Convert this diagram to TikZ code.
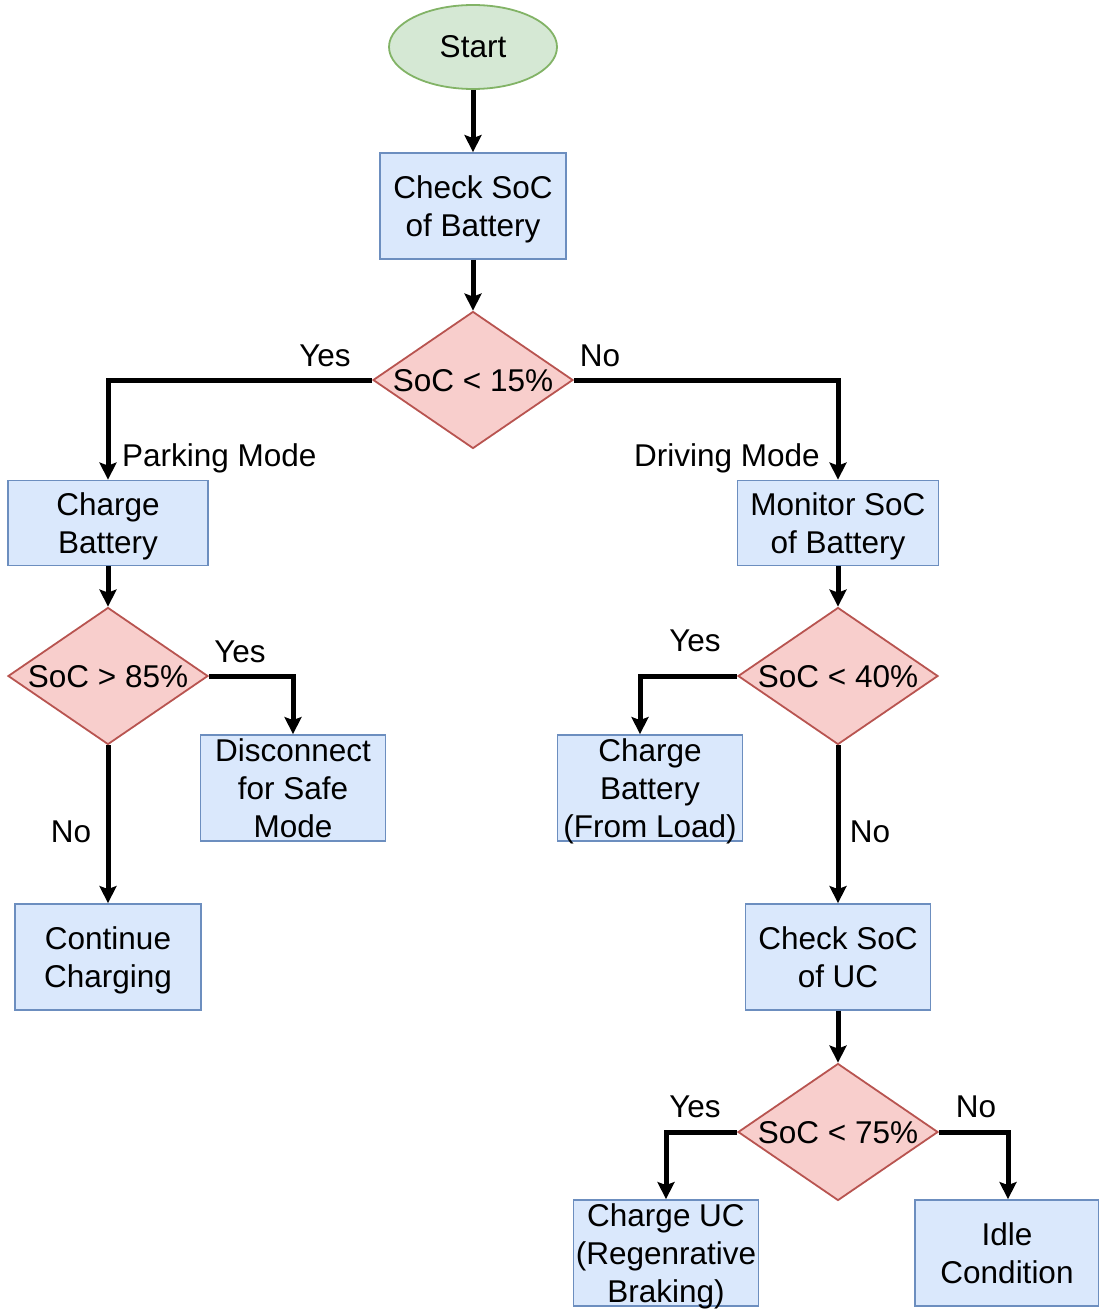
\documentclass[tikz,border=0pt]{standalone}
\usepackage{fontspec}
\setmainfont{Liberation Sans}
\usetikzlibrary{shapes.geometric,arrows.meta}
\definecolor{gfill}{HTML}{D5E8D4}\definecolor{gline}{HTML}{82B366}
\definecolor{bfill}{HTML}{DAE8FC}\definecolor{bline}{HTML}{6C8EBF}
\definecolor{rfill}{HTML}{F8CECC}\definecolor{rline}{HTML}{B85450}
\tikzset{
  txt/.style={font=\fontsize{31.5}{37.8}\selectfont, align=center, inner sep=0pt},
  % centre the text on its cap lines, ignoring descenders of the last line
  boxtxt/.style={txt, text depth=0pt},
  startbox/.style={ellipse, draw=gline, fill=gfill, line width=1.8pt, minimum width=168pt, minimum height=84pt, boxtxt},
  procbox/.style={rectangle, draw=bline, fill=bfill, line width=1.8pt, minimum height=106pt, boxtxt},
  decbox/.style={diamond, draw=rline, fill=rfill, line width=1.8pt, minimum width=200pt, minimum height=137pt, inner sep=0pt},
  dectext/.style={boxtxt},
  elabel/.style={txt, anchor=base},
  flow/.style={line width=5pt, line join=miter, -{Stealth[length=17pt,width=17pt,inset=3pt]}}
}
\begin{document}
\begin{tikzpicture}[x=1pt,y=-1pt]
\useasboundingbox (0,0) rectangle (1099,1311);
% nodes
\node[startbox] (start) at (473,47) {Start};
\node[procbox, minimum width=186pt] (chk) at (473,206) {Check SoC\\of Battery};
\node[decbox] (d1) at (473,380) {};
\node[dectext] (d1t) at (d1.center) {SoC < 15\%};
\node[procbox, minimum width=200pt, minimum height=85pt] (chg) at (108,523) {Charge\\Battery};
\node[procbox, minimum width=201pt, minimum height=85pt] (mon) at (838,523) {Monitor SoC\\of Battery};
\node[decbox] (d2) at (108,676) {};
\node[dectext] (d2t) at (d2.center) {SoC > 85\%};
\node[procbox, minimum width=185pt] (dis) at (293,788) {Disconnect\\for Safe\\Mode};
\node[procbox, minimum width=186pt] (cont) at (108,957) {Continue\\Charging};
\node[decbox] (d3) at (838,676) {};
\node[dectext] (d3t) at (d3.center) {SoC < 40\%};
\node[procbox, minimum width=185pt] (load) at (650,788) {Charge\\Battery\\(From Load)};
\node[procbox, minimum width=185pt] (uc) at (838,957) {Check SoC\\of UC};
\node[decbox] (d4) at (838,1132) {};
\node[dectext] (d4t) at (d4.center) {SoC < 75\%};
\node[procbox, minimum width=185pt] (cuc) at (666,1253) {Charge UC\\(Regenrative\\Braking)};
\node[procbox, minimum width=184pt] (idle) at (1007,1253) {Idle\\Condition};
% connectors
\draw[flow] (start) -- (chk);
\draw[flow] (chk) -- (d1);
\draw[flow] (d1.west) -| (chg.north);
\draw[flow] (d1.east) -| (mon.north);
\draw[flow] (chg) -- (d2);
\draw[flow] (d2.east) -| (dis.north);
\draw[flow] (d2.south) -- (cont.north);
\draw[flow] (mon) -- (d3);
\draw[flow] (d3.west) -| ([xshift=-10pt]load.north);
\draw[flow] (d3.south) -- (uc.north);
\draw[flow] (uc) -- (d4);
\draw[flow] (d4.west) -| (cuc.north);
\draw[flow] (d4.east) -| ([xshift=1pt]idle.north);
% connector labels
\node[elabel] (l1) at (325,366) {Yes};
\node[elabel] (l2) at (600,366) {No};
\node[txt, anchor=base west] (l3) at (122,466) {Parking Mode};
\node[txt, anchor=base east] (l4) at (820,466) {Driving Mode};
\node[elabel] (l5) at (240,662) {Yes};
\node[elabel] (l6) at (71,842) {No};
\node[elabel] (l7) at (695,651) {Yes};
\node[elabel] (l8) at (870,842) {No};
\node[elabel] (l9) at (695,1117) {Yes};
\node[elabel] (l10) at (976,1117) {No};
\end{tikzpicture}
\end{document}
